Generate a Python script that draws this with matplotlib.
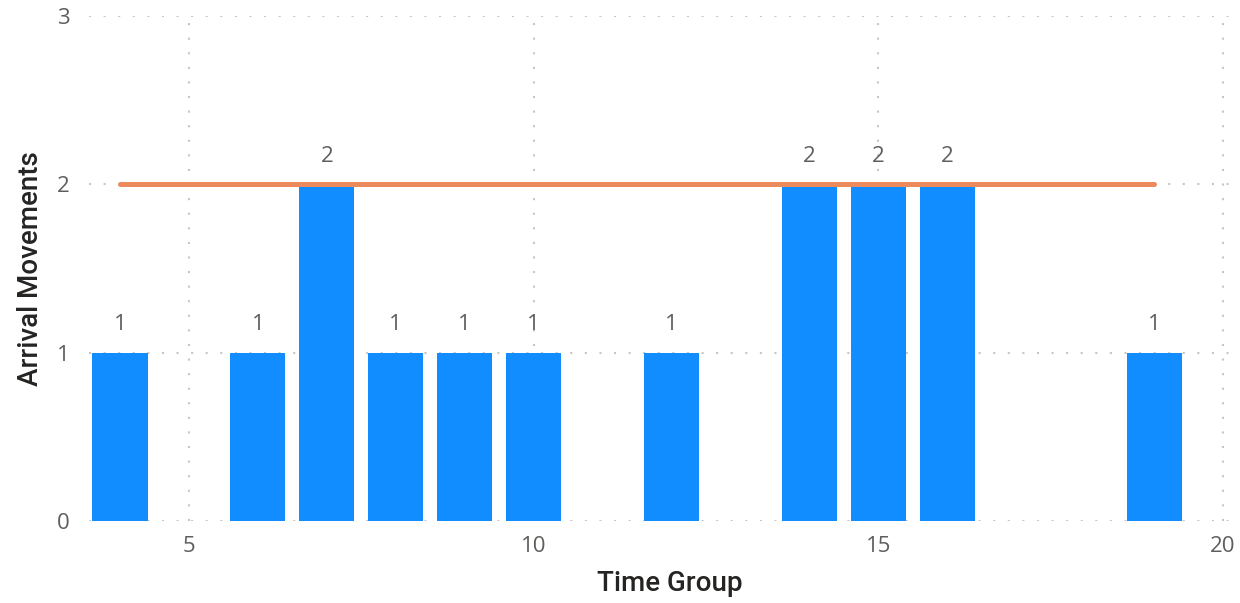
import matplotlib
matplotlib.use("Agg")
import matplotlib.pyplot as plt

time_group = [4, 6, 7, 8, 9, 10, 12, 14, 15, 16, 19]
arrivals = [1, 1, 2, 1, 1, 1, 1, 2, 2, 2, 1]
line_x = [4, 19]
line_y = [2, 2]
x_ticks = [5, 10, 15, 20]
y_ticks = [0, 1, 2, 3]

fig = plt.figure(figsize=(12.4, 6.03), dpi=100)
ax = fig.add_axes([89/1240, (603-521)/603, (1232-89)/1240, (521-16)/603])

ax.bar(time_group, arrivals, width=0.8, color="#118DFF", zorder=2)
ax.plot(line_x, line_y, color="#EC8A5E", linewidth=3.6, solid_capstyle="round", zorder=3)

for x, v in zip(time_group, arrivals):
    ax.annotate(str(v), (x, v), xytext=(0, 20), textcoords="offset points",
                ha="center", va="center", fontsize=16, color="#605E5C",
                family=["Open Sans", "DejaVu Sans"])

ax.set_xlim(3.55, 20.13)
ax.set_ylim(0, 3)
ax.set_xticks(x_ticks)
ax.set_yticks(y_ticks)
for s in ax.spines.values():
    s.set_visible(False)
ax.tick_params(length=0, labelsize=16, labelcolor="#605E5C")
ax.tick_params(axis="y", pad=14)
ax.tick_params(axis="x", pad=11)
for lab in ax.get_xticklabels() + ax.get_yticklabels():
    lab.set_family(["Open Sans", "DejaVu Sans"])

ax.grid(True, color="#C8C6C4", linewidth=1.5, linestyle=(0, (1, 6)), zorder=0)
ax.set_axisbelow(True)

ax.set_xlabel("Time Group", fontsize=20, color="#252423", family=["Roboto", "DejaVu Sans"],
              fontweight="medium", labelpad=10)
ax.xaxis.set_label_coords(0.508, -0.097)
ax.set_ylabel("Arrival Movements", fontsize=20, color="#252423", family=["Roboto", "DejaVu Sans"],
              fontweight="medium", labelpad=9)

fig.savefig("out.png", dpi=100)
